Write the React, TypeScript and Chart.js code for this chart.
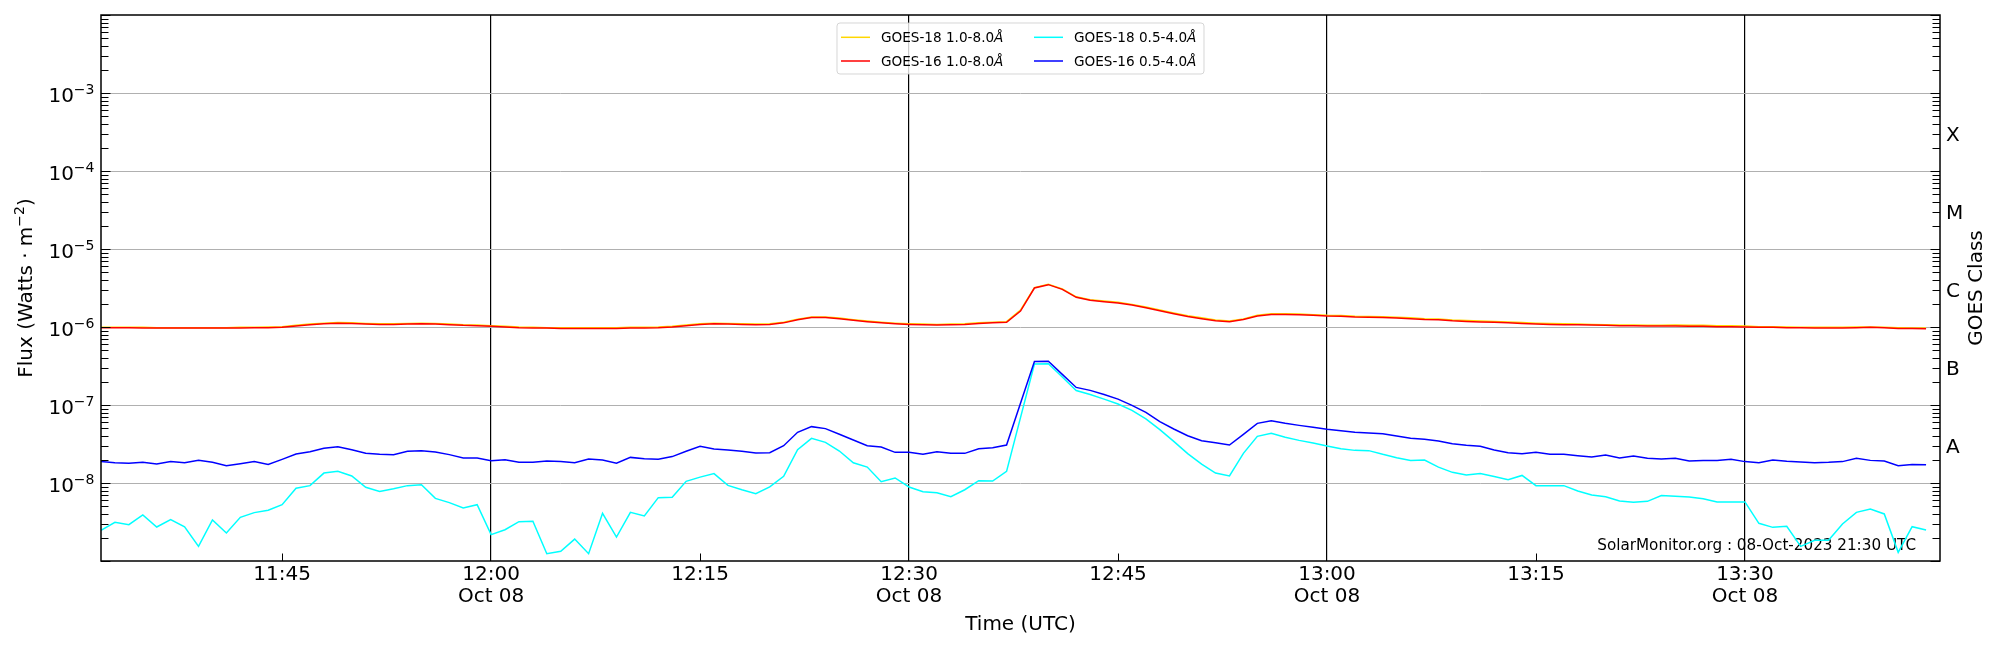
import React, { useEffect, useRef } from 'react';
import { Chart, registerables } from 'chart.js';

Chart.register(...registerables);

// ---------- data ----------
const START_MINUTE = 11 * 60 + 32; // first sample 11:32 UTC, 1-minute cadence
const END_MINUTE = 13 * 60 + 44; // axis end 13:44 UTC
const DATE_LABEL = 'Oct 08';
const X_TICKS = [705, 720, 735, 750, 765, 780, 795, 810]; // minutes of day
const X_MAJOR = [720, 750, 780, 810];
const Y_MIN = 1e-9;
const Y_MAX = 1e-2;
const Y_DECADES = [-9, -8, -7, -6, -5, -4, -3, -2];
const Y_LABEL_EXPONENTS = [-8, -7, -6, -5, -4, -3];
const GOES_CLASSES = ['A', 'B', 'C', 'M', 'X'];
const GOES_CLASS_LOWER = [1e-8, 1e-7, 1e-6, 1e-5, 1e-4];
const WATERMARK = 'SolarMonitor.org : 08-Oct-2023 21:30 UTC';

// GOES-18 1.0-8.0 Å (x 1e-6 W/m^2)
const G18_LONG = [
  0.99, 0.99, 0.99, 0.99, 0.98, 0.98, 0.98, 0.98, 0.98, 0.98, 0.99, 0.99, 1.0, 1.01,
  1.05, 1.09, 1.12, 1.14, 1.13, 1.11, 1.1, 1.1, 1.11, 1.12, 1.11, 1.09, 1.07, 1.06, 1.04,
  1.02, 1.0, 0.99, 0.98, 0.98, 0.98, 0.98, 0.98, 0.98, 0.99, 0.99, 1.0, 1.02, 1.06, 1.1, 1.12, 1.11, 1.1, 1.09, 1.1, 1.15, 1.26, 1.34, 1.34, 1.3, 1.24, 1.19, 1.15,
  1.12, 1.1, 1.09, 1.08, 1.09, 1.1, 1.13, 1.15, 1.17, 1.65, 3.2, 3.52, 3.08, 2.44, 2.24, 2.15, 2.07, 1.95, 1.8, 1.65, 1.51, 1.39, 1.31, 1.23, 1.19, 1.27, 1.41, 1.48,
  1.48, 1.47, 1.44, 1.41, 1.4, 1.37, 1.36, 1.35, 1.33, 1.31, 1.28, 1.27, 1.23, 1.21, 1.19, 1.18, 1.16, 1.14, 1.12, 1.11, 1.1, 1.09, 1.08, 1.07, 1.06, 1.06, 1.05, 1.05,
  1.06, 1.05, 1.05, 1.04, 1.04, 1.03, 1.01, 1.01, 1.0, 0.99, 0.99, 0.99, 0.99, 1.0, 1.0, 0.99, 0.98, 0.97, 0.97,
];

// GOES-16 1.0-8.0 Å (x 1e-6 W/m^2)
const G16_LONG = [
  0.98, 0.98, 0.98, 0.97, 0.97, 0.97, 0.97, 0.97, 0.97, 0.97, 0.97, 0.98, 0.98, 0.99,
  1.03, 1.07, 1.1, 1.12, 1.11, 1.09, 1.08, 1.08, 1.09, 1.1, 1.09, 1.07, 1.05, 1.04, 1.02,
  1.0, 0.98, 0.97, 0.97, 0.96, 0.96, 0.96, 0.96, 0.96, 0.97, 0.97, 0.98, 1.0, 1.04, 1.08, 1.1, 1.09, 1.08, 1.07, 1.08, 1.13, 1.24, 1.32, 1.32, 1.28, 1.22, 1.17, 1.13,
  1.1, 1.08, 1.07, 1.06, 1.07, 1.08, 1.11, 1.13, 1.15, 1.6, 3.16, 3.49, 3.04, 2.4, 2.2, 2.11, 2.03, 1.91, 1.77, 1.62, 1.48, 1.36, 1.28, 1.2, 1.17, 1.25, 1.38, 1.45,
  1.45, 1.44, 1.41, 1.38, 1.37, 1.34, 1.33, 1.32, 1.3, 1.28, 1.25, 1.24, 1.2, 1.18, 1.16, 1.15, 1.13, 1.11, 1.09, 1.08, 1.07, 1.07, 1.06, 1.05, 1.04, 1.04, 1.03, 1.03,
  1.03, 1.02, 1.02, 1.01, 1.01, 1.0, 0.99, 0.99, 0.98, 0.98, 0.97, 0.97, 0.97, 0.98, 0.99, 0.98, 0.96, 0.96, 0.95,
];

// GOES-18 0.5-4.0 Å (x 1e-9 W/m^2)
const G18_SHORT = [
  2.47, 3.13, 2.92, 3.89, 2.73, 3.39, 2.75, 1.54, 3.36, 2.29, 3.63, 4.17, 4.47, 5.27,
  8.55, 9.25, 13.4, 14.1, 12.3, 8.8, 7.8, 8.45, 9.25, 9.5, 6.35, 5.6, 4.78, 5.27, 2.18,
  2.52, 3.19, 3.23, 1.24, 1.33, 1.91, 1.24, 4.08, 2.03, 4.2, 3.78, 6.49, 6.55, 10.5, 11.9, 13.2, 9.33, 8.2, 7.3, 8.9, 12.2, 26.7, 37.4, 33.2, 25.7, 18.2, 16.0, 10.4,
  11.6, 8.9, 7.75, 7.52, 6.68, 8.2, 10.7, 10.6, 14.1, 69, 336, 338, 229, 153, 136, 119, 103, 85.5, 66.2, 48.3, 34.2, 23.8, 17.5, 13.4, 12.3, 24.0, 39.6, 43.3,
  38.5, 35.2, 32.6, 29.8, 27.5, 26.2, 26.0, 23.3, 21.1, 19.5, 19.7, 16.0, 13.7, 12.7, 13.2, 12.1, 11.0, 12.5, 9.25, 9.25, 9.25, 7.88, 7.0, 6.68, 5.88, 5.65, 5.82, 6.89,
  6.75, 6.62, 6.3, 5.7, 5.72, 5.72, 3.04, 2.7, 2.78, 1.54, 1.84, 1.84, 2.98, 4.2, 4.64, 4.01, 1.29, 2.75, 2.5,
];

// GOES-16 0.5-4.0 Å (x 1e-8 W/m^2)
const G16_SHORT = [
  1.88, 1.82, 1.79, 1.84, 1.75, 1.88, 1.82, 1.95, 1.84, 1.67, 1.77, 1.88, 1.73, 2.01,
  2.35, 2.52, 2.78, 2.92, 2.67, 2.4, 2.33, 2.31, 2.55, 2.6, 2.5, 2.31, 2.09, 2.09, 1.93,
  1.99, 1.84, 1.84, 1.91, 1.88, 1.82, 2.03, 1.97, 1.79, 2.13, 2.05, 2.01, 2.18, 2.55, 2.95, 2.73, 2.65, 2.55, 2.43, 2.45, 3.01, 4.47, 5.28, 4.98, 4.21, 3.56, 3.01, 2.9,
  2.47, 2.47, 2.33, 2.52, 2.4, 2.4, 2.75, 2.84, 3.07, 10.5, 36.0, 36.3, 24.7, 16.8, 15.4, 13.6, 11.9, 9.9, 8.05, 6.11, 4.92, 4.04, 3.49, 3.29, 3.07, 4.21, 5.82, 6.3,
  5.82, 5.48, 5.17, 4.88, 4.69, 4.47, 4.38, 4.29, 4.01, 3.74, 3.63, 3.45, 3.19, 3.04, 2.95, 2.65, 2.45, 2.38, 2.47, 2.33, 2.33, 2.24, 2.15, 2.28, 2.09, 2.22, 2.07, 2.03,
  2.07, 1.91, 1.95, 1.95, 2.01, 1.88, 1.82, 1.97, 1.9, 1.86, 1.82, 1.84, 1.88, 2.07, 1.95, 1.91, 1.67, 1.73, 1.72,
];

const SERIES = [
  { label: 'GOES-18 1.0-8.0', values: G18_LONG, unit: 1e-6, color: '#FFD700', order: 4 },
  { label: 'GOES-16 1.0-8.0', values: G16_LONG, unit: 1e-6, color: '#FF0000', order: 3 },
  { label: 'GOES-18 0.5-4.0', values: G18_SHORT, unit: 1e-9, color: '#00FFFF', order: 2 },
  { label: 'GOES-16 0.5-4.0', values: G16_SHORT, unit: 1e-8, color: '#0000FF', order: 1 },
];

const FONT = '"DejaVu Sans", "Liberation Sans", sans-serif';

function fmtTime(v: number) {
  const h = Math.floor(v / 60);
  const m = Math.round(v % 60);
  return `${h}:${m < 10 ? '0' + m : m}`;
}

const decorPlugin = {
  id: 'goesDecor',
  beforeDatasetsDraw(chart: any) {
    const { ctx, chartArea } = chart;
    ctx.save();
    ctx.fillStyle = '#000';
    ctx.font = `15.2px ${FONT}`;
    ctx.textAlign = 'right';
    ctx.textBaseline = 'alphabetic';
    ctx.fillText(WATERMARK, chartArea.right - 24, chartArea.bottom - 11.5);
    ctx.restore();
  },
  afterDraw(chart: any) {
    const { ctx, chartArea, scales } = chart;
    const ys = scales.y;
    const xs = scales.x;
    const L = chartArea.left;
    const R = chartArea.right;
    const T = chartArea.top;
    const B = chartArea.bottom;
    ctx.save();

    // inward tick marks on both y sides
    ctx.strokeStyle = '#000';
    ctx.lineWidth = 1;
    for (const d of Y_DECADES) {
      for (let m = 1; m <= 9; m++) {
        const v = m * Math.pow(10, d);
        if (v < Y_MIN * 0.999 || v > Y_MAX * 1.001) continue;
        const y = Math.round(ys.getPixelForValue(v)) + 0.5;
        const len = m === 1 ? 9.5 : 7.5;
        ctx.beginPath();
        ctx.moveTo(L, y);
        ctx.lineTo(L + len, y);
        ctx.moveTo(R, y);
        ctx.lineTo(R - len, y);
        ctx.stroke();
      }
    }
    // minor x ticks (inward, bottom)
    for (const t of X_TICKS) {
      if (X_MAJOR.includes(t)) continue;
      const x = Math.round(xs.getPixelForValue(t)) + 0.5;
      ctx.beginPath();
      ctx.moveTo(x, B);
      ctx.lineTo(x, B - 7.5);
      ctx.stroke();
    }

    // frame
    ctx.lineWidth = 1.5;
    ctx.strokeRect(L, T, R - L, B - T);

    ctx.fillStyle = '#000';
    ctx.textBaseline = 'alphabetic';

    // left y labels 10^n
    for (const e of Y_LABEL_EXPONENTS) {
      const y = ys.getPixelForValue(Math.pow(10, e));
      const sup = '\u2212' + Math.abs(e);
      ctx.font = `14px ${FONT}`;
      const ws = ctx.measureText(sup).width;
      ctx.font = `20px ${FONT}`;
      const wb = ctx.measureText('10').width;
      const xr = L - 6.5;
      ctx.fillText('10', xr - ws - wb, y + 8.5);
      ctx.font = `14px ${FONT}`;
      ctx.fillText(sup, xr - ws, y + 1);
    }

    // right GOES class labels
    ctx.font = `20px ${FONT}`;
    ctx.textAlign = 'left';
    GOES_CLASSES.forEach((c, i) => {
      const y0 = ys.getPixelForValue(GOES_CLASS_LOWER[i]);
      const y1 = ys.getPixelForValue(GOES_CLASS_LOWER[i] * 10);
      const y = (y0 + y1) / 2;
      ctx.fillText(c, R + 6, y + 8.8);
    });

    // x axis title
    ctx.textAlign = 'center';
    ctx.fillText('Time (UTC)', (L + R) / 2, 629.5);

    // left y title (rotated)
    {
      const main = 'Flux (Watts \u00B7 m';
      const sup = '\u22122';
      const tail = ')';
      ctx.font = `20px ${FONT}`;
      const wm = ctx.measureText(main).width;
      const wt = ctx.measureText(tail).width;
      ctx.font = `14px ${FONT}`;
      const ws = ctx.measureText(sup).width;
      const total = wm + ws + wt;
      ctx.save();
      ctx.translate(31.5, (T + B) / 2);
      ctx.rotate(-Math.PI / 2);
      ctx.textAlign = 'left';
      let x = -total / 2;
      ctx.font = `20px ${FONT}`;
      ctx.fillText(main, x, 0);
      x += wm;
      ctx.font = `14px ${FONT}`;
      ctx.fillText(sup, x, -8);
      x += ws;
      ctx.font = `20px ${FONT}`;
      ctx.fillText(tail, x, 0);
      ctx.restore();
    }

    // right y title (rotated)
    ctx.save();
    ctx.translate(1982, (T + B) / 2);
    ctx.rotate(-Math.PI / 2);
    ctx.textAlign = 'center';
    ctx.font = `20px ${FONT}`;
    ctx.fillText('GOES Class', 0, 0);
    ctx.restore();

    // legend (2 columns, upper center)
    {
      const w = 367;
      const h = 51;
      const bx = (L + R) / 2 - w / 2;
      const by = T + 8;
      ctx.save();
      ctx.beginPath();
      const r = 3;
      ctx.moveTo(bx + r, by);
      ctx.lineTo(bx + w - r, by);
      ctx.arcTo(bx + w, by, bx + w, by + r, r);
      ctx.lineTo(bx + w, by + h - r);
      ctx.arcTo(bx + w, by + h, bx + w - r, by + h, r);
      ctx.lineTo(bx + r, by + h);
      ctx.arcTo(bx, by + h, bx, by + h - r, r);
      ctx.lineTo(bx, by + r);
      ctx.arcTo(bx, by, bx + r, by, r);
      ctx.closePath();
      ctx.fillStyle = 'rgba(255,255,255,0.8)';
      ctx.fill();
      ctx.strokeStyle = 'rgba(204,204,204,0.8)';
      ctx.lineWidth = 1;
      ctx.stroke();
      ctx.restore();

      const cols = [bx + 4, bx + 197];
      const rows = [by + 14.3, by + 38];
      SERIES.forEach((s, i) => {
        const col = Math.floor(i / 2);
        const row = i % 2;
        const x0 = cols[col];
        const y0 = rows[row];
        ctx.strokeStyle = s.color;
        ctx.lineWidth = 1.5;
        ctx.beginPath();
        ctx.moveTo(x0, y0);
        ctx.lineTo(x0 + 29, y0);
        ctx.stroke();
        ctx.fillStyle = '#000';
        ctx.textAlign = 'left';
        ctx.font = `13.6px ${FONT}`;
        const tx = x0 + 40;
        ctx.fillText(s.label, tx, y0 + 5);
        const wl = ctx.measureText(s.label).width;
        ctx.font = `italic 13.6px ${FONT}`;
        ctx.fillText('\u00C5', tx + wl, y0 + 5);
      });
    }

    ctx.restore();
  },
};

export default function App() {
  const canvasRef = useRef<HTMLCanvasElement | null>(null);

  useEffect(() => {
    const canvas = canvasRef.current;
    if (!canvas) return;
    const datasets = SERIES.map((s) => ({
      label: s.label,
      data: s.values.map((v, i) => ({ x: START_MINUTE + i, y: v * s.unit })),
      borderColor: s.color,
      backgroundColor: s.color,
      borderWidth: 1.5,
      pointRadius: 0,
      tension: 0,
      fill: false,
      order: s.order,
    }));

    const chart = new Chart(canvas, {
      type: 'line',
      data: { datasets },
      plugins: [decorPlugin],
      options: {
        animation: false,
        responsive: false,
        events: [],
        layout: { padding: { top: 15, left: 0, right: 0, bottom: 0 } },
        plugins: {
          legend: { display: false },
          tooltip: { enabled: false },
          title: { display: false },
        },
        scales: {
          x: {
            type: 'linear',
            position: 'bottom',
            min: START_MINUTE,
            max: END_MINUTE,
            afterBuildTicks: (scale: any) => {
              scale.ticks = X_TICKS.map((v) => ({ value: v }));
            },
            afterFit: (scale: any) => {
              scale.height = 89;
            },
            grid: {
              drawTicks: false,
              color: (ctx: any) =>
                ctx.tick && X_MAJOR.includes(ctx.tick.value) ? '#000000' : 'rgba(0,0,0,0)',
              lineWidth: 1.2,
            },
            border: { display: false },
            ticks: {
              autoSkip: false,
              maxRotation: 0,
              minRotation: 0,
              padding: 2.5,
              color: '#000',
              font: { family: FONT, size: 20, lineHeight: 1.12 },
              callback: (value: any) => {
                const v = Number(value);
                return X_MAJOR.includes(v) ? [fmtTime(v), DATE_LABEL] : fmtTime(v);
              },
            },
          },
          y: {
            type: 'logarithmic',
            position: 'left',
            min: Y_MIN,
            max: Y_MAX,
            afterBuildTicks: (scale: any) => {
              scale.ticks = Y_DECADES.map((d) => ({ value: Math.pow(10, d) }));
            },
            afterFit: (scale: any) => {
              scale.width = 101;
            },
            grid: {
              drawTicks: false,
              color: (ctx: any) => {
                const v = ctx.tick ? ctx.tick.value : 0;
                return v <= Y_MIN * 1.001 || v >= Y_MAX * 0.999 ? 'rgba(0,0,0,0)' : '#b0b0b0';
              },
              lineWidth: 1,
            },
            border: { display: false },
            ticks: { display: false },
          },
          y2: {
            type: 'logarithmic',
            position: 'right',
            min: Y_MIN,
            max: Y_MAX,
            afterFit: (scale: any) => {
              scale.width = 60;
            },
            grid: { display: false, drawTicks: false },
            border: { display: false },
            ticks: { display: false },
          },
        },
      } as any,
    });
    return () => chart.destroy();
  }, []);

  return (
    <div style={{ position: 'fixed', left: 0, top: 0, width: 2000, height: 650, background: '#fff' }}>
      <canvas ref={canvasRef} width={2000} height={650} style={{ width: 2000, height: 650, display: 'block' }} />
    </div>
  );
}
